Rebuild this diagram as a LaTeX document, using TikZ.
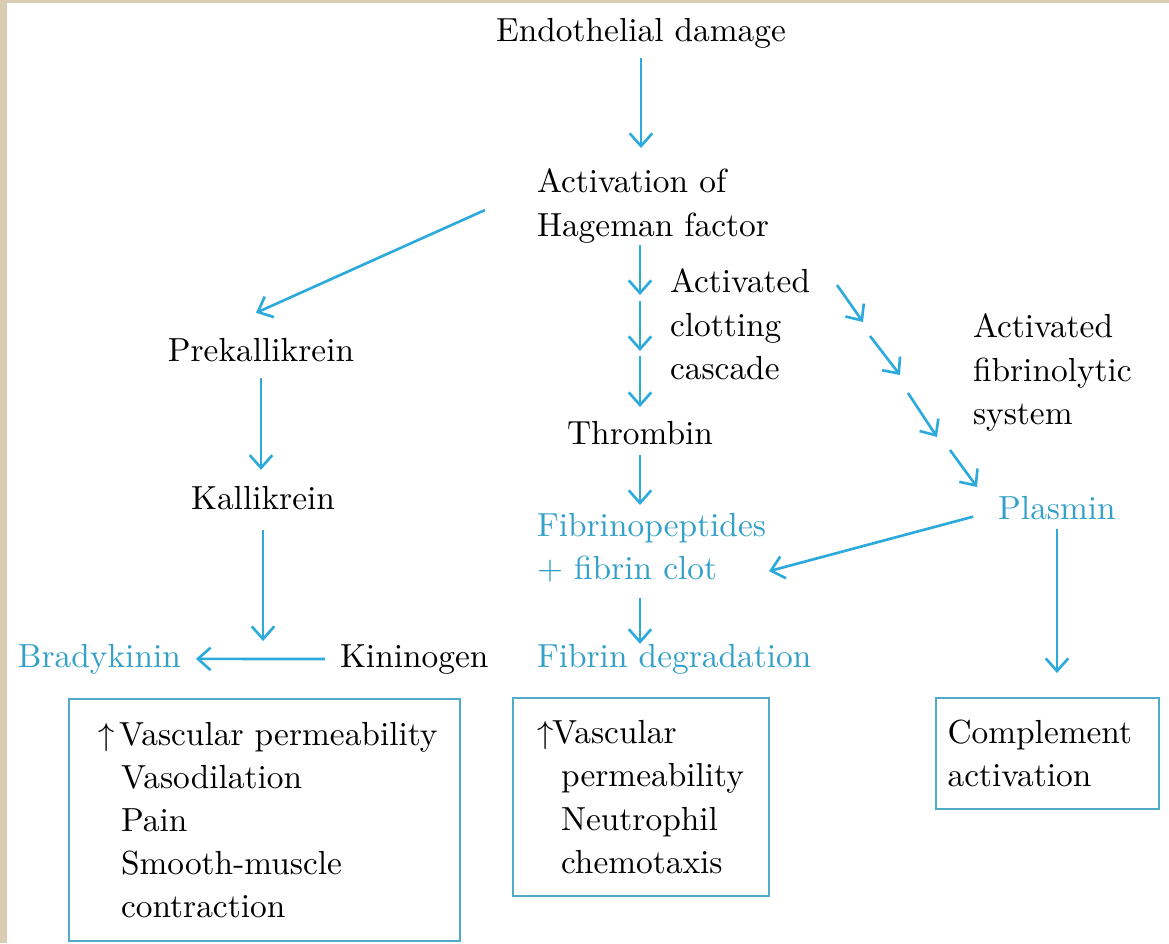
\documentclass[tikz,border=0pt]{standalone}
\usepackage{amsmath}
\usepackage{amssymb}
\usepackage{tikz}
\usetikzlibrary{arrows.meta}
\definecolor{flowBlue}{RGB}{45,170,220}
\definecolor{productBlue}{RGB}{50,160,200}
\definecolor{boxBlue}{RGB}{80,170,200}
\definecolor{paperEdge}{RGB}{218,204,178}

\begin{document}
\begin{tikzpicture}[->,>={Straight Barb[length=3.6pt,width=6.4pt]}, line width=0.75pt,
                    font=\fontsize{9.5pt}{12.3pt}\selectfont]
        \tikzset{
           factor/.style={
                        rectangle,
                        inner sep=0pt,
                        outer sep=0pt,
                        draw=none,
                        text=black
                       },
           product/.style={
                        rectangle,
                        inner sep=0pt,
                        outer sep=0pt,
                        draw=none,
                        text=productBlue
                       },
           effect/.style={
                        rectangle,
                        draw=boxBlue,
                        line width=0.6pt,
                        fill=none,
                        text=black,
                        align=left,
                        inner sep=0pt,
                        anchor=north west
                       },
           flow/.style={
                        every edge/.append style={draw=flowBlue}
                       },
                 };
    %--------------------
        \useasboundingbox (0,0) rectangle (11.69,-9.43);
        \fill[paperEdge] (0,0) rectangle (11.69,-9.43);
        \fill[white] (0.07,-0.03) rectangle (11.69,-9.43);
    %--------------------
        \node[factor]  (endoDamage)    [anchor=base]            at (6.41,-0.41)  {Endothelial damage};
        \node[factor]  (hageman)       [anchor=north west, align=left] at (5.37,-1.69) {Activation of\\Hageman factor};
        \node[factor]  (clotCascade)   [anchor=north west, align=left] at (6.70,-2.69) {Activated\\clotting\\cascade};
        \node[factor]  (fibrinolysis)  [anchor=north west, align=left] at (9.73,-3.14) {Activated\\fibrinolytic\\system};

        \node[factor]  (prekallikrein) [anchor=base]            at (2.61,-3.61)  {Prekallikrein};
        \node[factor]  (kallikrein)    [anchor=base]            at (2.63,-5.09)  {Kallikrein};
        \node[factor]  (kininogen)     [anchor=base west]       at (3.40,-6.67)  {Kininogen};
        \node[product] (bradykinin)    [anchor=base west]       at (0.18,-6.67)  {Bradykinin};

        \node[factor]  (thrombin)      [anchor=base]            at (6.40,-4.44)  {Thrombin};
        \node[product] (fibrinClot)    [anchor=north west, align=left] at (5.37,-5.13) {Fibrinopeptides\\+ fibrin clot};
        \node[product] (fibrinDeg)     [anchor=base west]       at (5.37,-6.67)  {Fibrin degradation};
        \node[product] (plasmin)       [anchor=base]            at (10.57,-5.19) {Plasmin};

        \node[effect, minimum width=3.91cm, minimum height=2.42cm, text width=3.33cm] (bradyEffect) at (0.68,-6.98)
              {\mbox{\makebox[0.21cm][l]{$\uparrow$}Vascular permeability}\\
               \hspace*{0.23cm}Vasodilation\\
               \hspace*{0.23cm}Pain\\
               \hspace*{0.23cm}Smooth-muscle\\
               \hspace*{0.23cm}contraction};
        \node[effect, minimum width=2.56cm, minimum height=1.98cm, text width=2.08cm] (fibrinEffect) at (5.12,-6.97)
              {\makebox[0.15cm][l]{$\uparrow$}Vascular\\
               \hspace*{0.24cm}permeability\\
               \hspace*{0.24cm}Neutrophil\\
               \hspace*{0.24cm}chemotaxis};
        \node[effect, minimum width=2.23cm, minimum height=1.11cm, text width=2.00cm] (complement) at (9.35,-6.97)
              {Complement\\activation};
    %--------------------
        \coordinate (clotA1)  at (6.40,-2.45);
        \coordinate (clotA2)  at (6.40,-2.95);
        \coordinate (clotB1)  at (6.40,-3.01);
        \coordinate (clotB2)  at (6.40,-3.51);
        \coordinate (clotC1)  at (6.40,-3.56);
        \coordinate (clotC2)  at (6.40,-4.07);

        \coordinate (lysisA1) at (8.37,-2.85);
        \coordinate (lysisA2) at (8.63,-3.22);
        \coordinate (lysisB1) at (8.70,-3.36);
        \coordinate (lysisB2) at (9.00,-3.75);
        \coordinate (lysisC1) at (9.08,-3.93);
        \coordinate (lysisC2) at (9.37,-4.37);
        \coordinate (lysisD1) at (9.50,-4.50);
        \coordinate (lysisD2) at (9.77,-4.87);
    %--------------------
        \path[flow]
              (endoDamage.south)    edge[shorten <=0.10cm, shorten >=0.21cm] (endoDamage.south |- hageman.north)

              ([xshift=-0.52cm,yshift=-0.04cm]hageman.west) edge ([xshift=-0.05cm,yshift=0.25cm]prekallikrein.north)
              (prekallikrein.south) edge[shorten <=0.17cm, shorten >=0.16cm] (prekallikrein.south |- kallikrein.north)
              (kallikrein.south)    edge[shorten <=0.21cm, shorten >=0.18cm] (kallikrein.south |- kininogen.west)
              (kininogen.west)      edge[shorten <=0.15cm, shorten >=0.15cm] (bradykinin.east)

              (clotA1)  edge (clotA2)
              (clotB1)  edge (clotB2)
              (clotC1)  edge (clotC2)

              (thrombin.south)      edge[shorten <=0.11cm, shorten >=0.08cm] (thrombin.south |- fibrinClot.north)
              (thrombin.south |- fibrinClot.south) edge[shorten <=0.16cm] (thrombin.south |- fibrinDeg.north)

              (lysisA1) edge (lysisA2)
              (lysisB1) edge (lysisB2)
              (lysisC1) edge (lysisC2)
              (lysisD1) edge (lysisD2)

              ([xshift=-0.25cm,yshift=-0.09cm]plasmin.west) edge ([xshift=0.03cm,yshift=0.11cm]fibrinClot.south east)
              (plasmin.south)       edge[shorten <=0.10cm, shorten >=0.24cm] (plasmin.south |- complement.north);
    \end{tikzpicture}
\end{document}
